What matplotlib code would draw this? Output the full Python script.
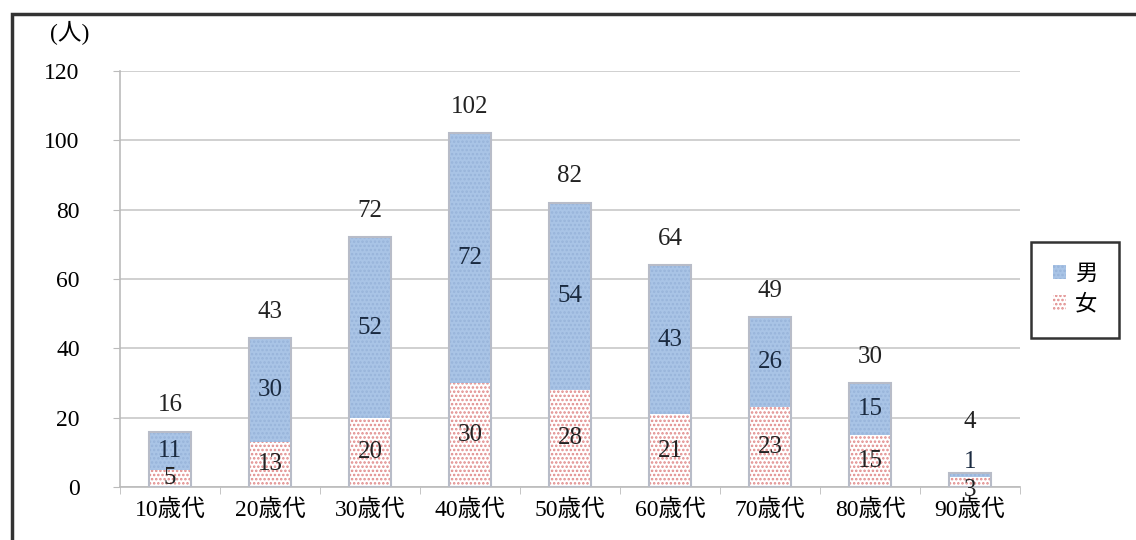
import matplotlib
matplotlib.use("Agg")
import matplotlib.pyplot as plt
from matplotlib.patches import Rectangle
import numpy as np

plt.rcParams['font.family'] = ['Liberation Serif', 'Noto Sans CJK JP', 'DejaVu Sans']
plt.rcParams['hatch.linewidth'] = 1.2

categories = ['10歳代', '20歳代', '30歳代', '40歳代', '50歳代', '60歳代', '70歳代', '80歳代', '90歳代']
female = [5, 13, 20, 30, 28, 21, 23, 15, 3]
male = [11, 30, 52, 72, 54, 43, 26, 15, 1]
totals = [16, 43, 72, 102, 82, 64, 49, 30, 4]
yticks = [0, 20, 40, 60, 80, 100, 120]

fig = plt.figure(figsize=(11.36, 5.4), dpi=100)
ax = fig.add_axes([120/1136, 1-487/540, 900/1136, 416/540])

x = np.arange(len(categories))
w = 0.42
bf = ax.bar(x, female, w, color='white', edgecolor='#e08a8a', hatch='....', linewidth=0, zorder=3, label='女')
bm = ax.bar(x, male, w, bottom=female, color='#a9c4e6', edgecolor='#98b4da', hatch='....', linewidth=0, zorder=3, label='男')
for i in range(len(x)):
    ax.add_patch(Rectangle((x[i]-w/2, 0), w, female[i]+male[i], fill=False, edgecolor='#b8bcc8', linewidth=1.5, zorder=4))

fs = 18
for i in range(len(x)):
    small = female[i] + male[i] < 8
    ax.annotate(str(female[i]), (x[i], female[i]/2), xytext=(0, -6 if small else 0), textcoords='offset points',
                ha='center', va='center', fontsize=fs, color='#222222', zorder=5)
    ax.annotate(str(male[i]), (x[i], female[i] + male[i]/2), xytext=(0, 9 if small else 0), textcoords='offset points',
                ha='center', va='center', fontsize=fs, color='#1a2a40', zorder=5)
    ax.annotate(str(totals[i]), (x[i], female[i]+male[i]), xytext=(0, 29 if small else 11), textcoords='offset points',
                ha='center', va='bottom', fontsize=fs, color='#222222', zorder=5)

ax.set_xlim(-0.5, len(categories)-0.5)
ax.set_ylim(0, 120)
ax.set_yticks(yticks)
ax.set_yticklabels([str(v) for v in yticks], fontsize=17)
ax.set_xticks(x)
ax.set_xticklabels(categories, fontsize=17)
ax.set_xticks(np.arange(-0.5, len(categories), 1), minor=True)
ax.tick_params(axis='x', which='major', length=0, pad=9)
ax.tick_params(axis='x', which='minor', length=5, color='#bbbbbb')
ax.tick_params(axis='y', length=5, color='#bbbbbb', pad=24)
ax.yaxis.grid(True, color='#c8c8c8', linewidth=1.2, zorder=0)
for s in ['top', 'right']:
    ax.spines[s].set_visible(False)
for s in ['left', 'bottom']:
    ax.spines[s].set_color('#bbbbbb')
    ax.spines[s].set_linewidth(1.2)

fig.text(50/1136, 1-33/540, '(人)', fontsize=17, ha='left', va='center')

leg = fig.legend(handles=[bm, bf], labels=['男', '女'], loc='center', bbox_to_anchor=(1075/1136, 1-290/540),
                 frameon=True, fontsize=16, handlelength=0.6, handleheight=0.6, handletextpad=0.4,
                 borderpad=1.0, labelspacing=0.45, fancybox=False)
leg.get_frame().set_edgecolor('black')
leg.get_frame().set_linewidth(1.8)

fig.patches.append(Rectangle((12/1136, -0.1), 1.2, 1-14/540+0.1, transform=fig.transFigure,
                             fill=False, edgecolor='#333333', linewidth=2.5))

fig.savefig('out.png', dpi=100)
